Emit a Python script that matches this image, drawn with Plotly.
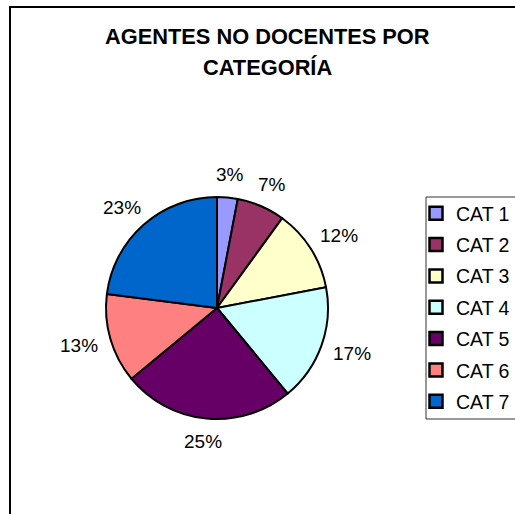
import numpy as np
import plotly.graph_objects as go

categories = ["CAT 1", "CAT 2", "CAT 3", "CAT 4", "CAT 5", "CAT 6", "CAT 7"]
values = [3, 7, 12, 17, 25, 13, 23]
colors = ["#9999FF", "#993366", "#FFFFCC", "#CCFFFF", "#660066", "#FF8080", "#0066CC"]
title_lines = ["AGENTES NO DOCENTES POR", "CATEGORÍA"]

W, H = 515, 514
FONT = "Liberation Sans, Arial, sans-serif"
LABEL_SIZE = 19

cx, cy, r = 217, 308, 111
gap = 14

fig = go.Figure()
fig.add_trace(go.Pie(
    labels=categories, values=values, sort=False, direction="clockwise", rotation=0,
    marker=dict(colors=colors, line=dict(color="black", width=2)),
    textinfo="none", showlegend=False, hoverinfo="label+percent",
    domain=dict(x=[(cx - r) / W, (cx + r) / W], y=[(H - cy - r) / H, (H - cy + r) / H]),
))

vals = np.array(values, dtype=float)
frac = vals / vals.sum()
mid = (np.cumsum(frac) - frac / 2) * 2 * np.pi
annotations = []
for f, a in zip(frac, mid):
    txt = f"{round(f * 100):d}%"
    hw = (0.556 * (len(txt) - 1) + 0.889) * LABEL_SIZE / 2
    hh = LABEL_SIZE * 0.5
    sx, sy = np.sin(a), -np.cos(a)
    px = cx + (r + gap) * sx + hw * sx
    py = cy + (r + gap) * sy + hh * sy
    annotations.append(dict(text=txt, x=px / W, y=1 - py / H, xref="paper", yref="paper",
                            xanchor="center", yanchor="middle", showarrow=False,
                            font=dict(family=FONT, size=LABEL_SIZE, color="black")))

for t, top in zip(title_lines, [22, 53]):
    annotations.append(dict(text="<b>" + t + "</b>", x=267 / W, y=1 - top / H,
                            xref="paper", yref="paper", xanchor="center", yanchor="top",
                            showarrow=False, font=dict(family=FONT, size=21.8, color="black")))

for c, col in zip(categories, colors):
    fig.add_trace(go.Scatter(
        x=[None], y=[None], mode="markers", name=c, legendgroup=c,
        marker=dict(symbol="square", size=13, color=col, line=dict(color="black", width=2.5)),
    ))

lx0, ly0, ly1 = 426 / W, 1 - 419 / H, 1 - 197 / H
box = dict(color="#333333", width=1)
fig.update_layout(
    width=W, height=H, margin=dict(l=0, r=0, t=0, b=0),
    paper_bgcolor="white", plot_bgcolor="white",
    xaxis=dict(visible=False), yaxis=dict(visible=False),
    showlegend=True,
    legend=dict(x=1.0, y=1 - 194 / H, xanchor="right", yanchor="top",
                font=dict(family=FONT, size=19.5, color="black"),
                tracegroupgap=3, bgcolor="rgba(0,0,0,0)", borderwidth=0,
                bordercolor="rgba(0,0,0,0)"),
    annotations=annotations,
    shapes=[
        dict(type="rect", xref="paper", yref="paper", x0=10 / W, x1=1.1, y0=-0.1, y1=1 - 7 / H,
             line=dict(color="black", width=2)),
        dict(type="line", xref="paper", yref="paper", x0=lx0, x1=lx0, y0=ly0, y1=ly1, line=box),
        dict(type="line", xref="paper", yref="paper", x0=lx0, x1=1.1, y0=ly0, y1=ly0, line=box),
        dict(type="line", xref="paper", yref="paper", x0=lx0, x1=1.1, y0=ly1, y1=ly1, line=box),
    ],
)

fig.write_html("out.html", config={"displayModeBar": False},
               post_script="document.body.style.margin='0px';")
